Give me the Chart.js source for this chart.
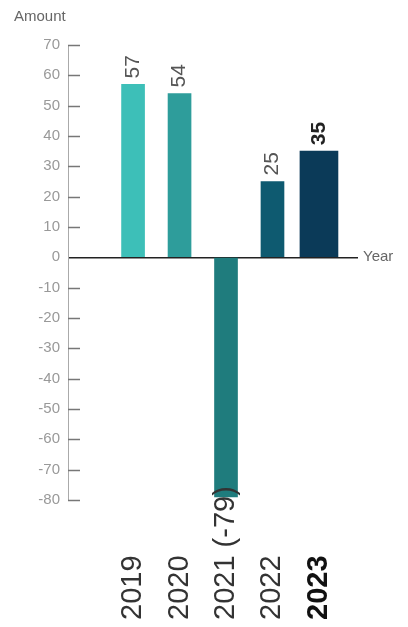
<!DOCTYPE html>
<html>
<head>
<meta charset="utf-8">
<script src="https://cdn.jsdelivr.net/npm/chart.js@4"></script>
<style>
  html, body { margin: 0; padding: 0; background: #fff; }
  #wrap { width: 408px; height: 627px; position: relative; }
</style>
</head>
<body>
<div id="wrap"><canvas id="chart"></canvas></div>
<script>
// data
const years = ["2019", "2020", "2021", "2022", "2023"];
const tickLabels = ["2019", "2020", "2021 (-79)", "2022", "2023"];
const amounts = [57, 54, -79, 25, 35];
const valueLabels = ["57", "54", "", "25", "35"];
const barColors = ["#3dbfb8", "#2e9d9b", "#1f7c7d", "#0e5a70", "#0b3a58"];
const highlight = 4; // 2023 is drawn wider and bold

const points = amounts.map((v, i) => ({ x: i, y: v }));

// text drawn around the plot: value labels, rotated year labels, axis titles
const labelsPlugin = {
  id: "labels",
  afterDraw(chart) {
    const ctx = chart.ctx;
    const xs = chart.scales.x;
    const ys = chart.scales.y;
    const area = chart.chartArea;
    ctx.save();

    // tick marks on the inside of the y axis (zero has the full baseline)
    ctx.strokeStyle = "#777";
    ctx.lineWidth = 1.5;
    ys.ticks.forEach((t) => {
      if (t.value === 0) return;
      const py = Math.round(ys.getPixelForValue(t.value)) + 0.5;
      ctx.beginPath();
      ctx.moveTo(area.left, py);
      ctx.lineTo(area.left + 12, py);
      ctx.stroke();
    });

    // axis titles
    ctx.fillStyle = "#666";
    ctx.font = "15px 'Liberation Sans', Arial, sans-serif";
    ctx.textAlign = "left";
    ctx.textBaseline = "middle";
    ctx.fillText("Amount", 14, 17);
    ctx.fillText("Year", area.right + 5, ys.getPixelForValue(0));

    years.forEach((y, i) => {
      const px = xs.getPixelForValue(i);
      const bold = i === highlight;

      // value above bar
      if (valueLabels[i]) {
        ctx.save();
        ctx.translate(px, ys.getPixelForValue(amounts[i]) - 6);
        ctx.rotate(-Math.PI / 2);
        ctx.font = (bold ? "bold " : "") + "21px 'Liberation Sans', Arial, sans-serif";
        ctx.fillStyle = bold ? "#222" : "#555";
        ctx.textAlign = "left";
        ctx.textBaseline = "middle";
        ctx.fillText(valueLabels[i], 0, 0);
        ctx.restore();
      }

      // year label, bottom aligned
      ctx.save();
      ctx.translate(px, 620);
      ctx.rotate(-Math.PI / 2);
      ctx.font = (bold ? "bold " : "") + "29px 'Liberation Sans', Arial, sans-serif";
      ctx.fillStyle = bold ? "#111" : "#333";
      ctx.textAlign = "left";
      ctx.textBaseline = "middle";
      ctx.fillText(tickLabels[i], 0, 0);
      ctx.restore();
    });

    ctx.restore();
  },
};

const chart = new Chart(document.getElementById("chart"), {
  type: "bar",
  data: {
    datasets: [
      {
        data: points.filter((p) => p.x !== highlight),
        backgroundColor: (c) => barColors[c.raw ? c.raw.x : 0],
        barThickness: 23,
        grouped: false,
      },
      {
        data: points.filter((p) => p.x === highlight),
        backgroundColor: barColors[highlight],
        barThickness: 38,
        grouped: false,
      },
    ],
  },
  options: {
    responsive: true,
    maintainAspectRatio: false,
    animation: false,
    layout: {
      padding: { top: 45, right: 50, bottom: 127, left: 0 },
    },
    scales: {
      x: {
        type: "linear",
        display: false,
        offset: false,
        min: -1.4,
        max: 4.84,
      },
      y: {
        position: "left",
        min: -80,
        max: 70,
        afterFit(scale) {
          scale.width = 68;
        },
        ticks: {
          stepSize: 10,
          color: "#999",
          padding: 8,
          font: { family: "'Liberation Sans', Arial, sans-serif", size: 15 },
        },
        grid: {
          drawOnChartArea: true,
          drawTicks: false,
          color: (c) => (c.tick && c.tick.value === 0 ? "#222" : "rgba(0,0,0,0)"),
          lineWidth: (c) => (c.tick && c.tick.value === 0 ? 1.5 : 1),
        },
        border: {
          display: true,
          color: "#aaa",
          width: 1,
        },
      },
    },
    plugins: {
      legend: { display: false },
      tooltip: { enabled: false },
    },
  },
  plugins: [labelsPlugin],
});
</script>
</body>
</html>
